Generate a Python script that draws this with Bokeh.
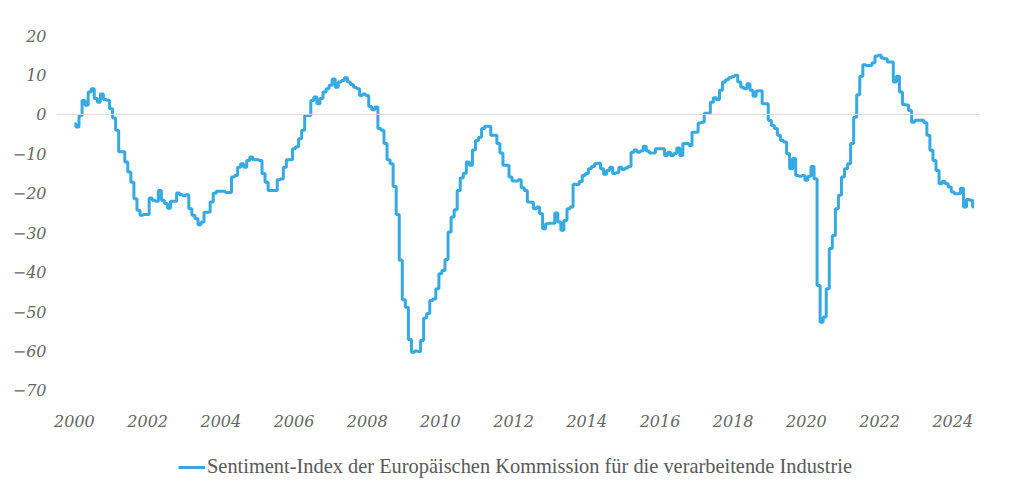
from bokeh.plotting import figure
from bokeh.layouts import column
from bokeh.models import ColumnDataSource, Range1d, FixedTicker, Span, Legend, LegendItem
from bokeh.embed import file_html
from bokeh.resources import INLINE

start_year = 2000
tick_years = list(range(2000, 2025, 2))
y_ticks = [20, 10, 0, -10, -20, -30, -40, -50, -60, -70]

v2000 = [-2.4, -3.2, -0.3, 3.5, 2.3, 5.7, 6.5, 4.0, 3.1, 5.2, 3.8, 3.6]
v2001 = [1.4, -0.9, -4.0, -9.5, -9.5, -12.1, -14.6, -17.2, -21.4, -24.3, -25.6, -25.4]
v2002 = [-25.4, -21.2, -21.8, -22.0, -19.3, -21.8, -22.6, -23.8, -22.0, -22.0, -19.9, -20.4]
v2003 = [-20.6, -20.4, -23.9, -25.6, -26.4, -28.0, -27.3, -24.8, -24.8, -22.2, -20.0, -19.5]
v2004 = [-19.5, -19.5, -19.8, -19.8, -15.9, -15.5, -13.4, -12.5, -13.4, -11.7, -10.8, -11.5]
v2005 = [-11.5, -11.7, -15.0, -17.2, -19.3, -19.3, -19.3, -16.6, -16.4, -13.4, -11.5, -11.5]
v2006 = [-8.7, -8.2, -6.2, -4.0, -0.3, -0.3, 3.5, 4.4, 2.7, 4.0, 5.7, 6.5]
v2007 = [7.4, 9.0, 6.9, 8.2, 8.6, 9.3, 8.2, 7.6, 6.9, 6.5, 4.8, 5.2]
v2008 = [4.8, 2.0, 1.2, 1.9, -3.6, -4.0, -7.4, -11.5, -12.5, -18.3, -25.4, -37.0]
v2009 = [-47.0, -48.9, -57.1, -60.3, -60.0, -60.1, -57.3, -51.6, -50.5, -47.2, -46.8, -44.2]
v2010 = [-40.4, -39.6, -36.8, -29.8, -26.0, -24.2, -19.3, -16.1, -14.9, -12.1, -12.9, -9.0]
v2011 = [-6.6, -5.8, -3.6, -3.0, -3.0, -5.3, -5.3, -7.4, -9.8, -12.9, -12.9, -15.9]
v2012 = [-16.9, -16.9, -16.6, -18.6, -19.3, -22.2, -22.3, -23.9, -23.5, -25.2, -29.0, -27.7]
v2013 = [-27.6, -27.6, -25.0, -27.3, -29.4, -26.9, -23.9, -23.5, -17.7, -17.8, -17.0, -15.5]
v2014 = [-15.0, -13.8, -13.2, -12.5, -12.4, -13.8, -15.2, -14.2, -13.4, -15.0, -14.8, -13.4]
v2015 = [-14.0, -13.6, -13.2, -9.6, -9.0, -9.6, -9.3, -8.1, -9.3, -9.8, -9.8, -8.7]
v2016 = [-8.7, -8.7, -10.4, -9.6, -10.4, -9.9, -8.5, -10.4, -7.4, -7.4, -7.9, -4.5]
v2017 = [-4.5, -2.2, -2.0, 0.3, 0.3, 3.1, 4.2, 3.7, 6.1, 8.2, 8.8, 9.3]
v2018 = [9.6, 9.9, 8.2, 6.9, 6.5, 7.8, 6.1, 4.6, 5.9, 6.0, 2.7, 2.7]
v2019 = [-1.5, -2.8, -3.6, -5.3, -6.6, -7.0, -10.0, -13.8, -11.2, -15.5, -15.7, -15.5]
v2020 = [-16.7, -15.7, -13.2, -16.3, -43.4, -52.7, -51.4, -44.2, -34.0, -30.7, -23.9, -20.5]
v2021 = [-15.9, -13.8, -12.5, -7.4, -0.7, 5.0, 9.7, 12.6, 12.4, 12.4, 13.1, 14.8]
v2022 = [15.0, 14.3, 14.1, 13.3, 13.3, 8.2, 9.7, 5.7, 2.5, 2.4, 1.0, -2.0]
v2023 = [-1.5, -1.5, -1.5, -2.1, -5.3, -9.1, -11.7, -14.2, -17.6, -17.0, -17.6, -18.4]
v2024 = [-19.7, -20.1, -20.1, -18.7, -23.5, -21.6, -21.8, -23.5]

series_name = "Sentiment-Index der Europäischen Kommission für die verarbeitende Industrie"

values = (v2000 + v2001 + v2002 + v2003 + v2004 + v2005 + v2006 + v2007 + v2008 +
          v2009 + v2010 + v2011 + v2012 + v2013 + v2014 + v2015 + v2016 + v2017 +
          v2018 + v2019 + v2020 + v2021 + v2022 + v2023 + v2024)
dates = [start_year + i / 12 for i in range(len(values))]

src = ColumnDataSource(dict(x=dates, y=values))

LINE_COLOR = "#36a9e1"
W = 1024
p = figure(width=W, height=440, output_backend="svg", toolbar_location=None,
           x_range=Range1d(1999.51, 2024.73), y_range=Range1d(-72.54, 21.27),
           min_border_left=56, min_border_right=45, min_border_top=30, min_border_bottom=40)
p.outline_line_color = None
p.xgrid.visible = False
p.ygrid.visible = False

p.add_layout(Span(location=0, dimension="width", line_color="#d9d9d9", line_width=1))

r = p.step(x="x", y="y", source=src, mode="center", line_color=LINE_COLOR, line_width=3)

font = "DejaVu Serif"
for ax in (p.xaxis[0], p.yaxis[0]):
    ax.axis_line_color = None
    ax.major_tick_line_color = None
    ax.minor_tick_line_color = None
    ax.major_label_text_font = font
    ax.major_label_text_font_style = "italic"
    ax.major_label_text_font_size = "16px"
    ax.major_label_text_color = "#666666"

p.xaxis[0].ticker = FixedTicker(ticks=tick_years)
p.xaxis[0].major_label_standoff = 8
p.yaxis[0].ticker = FixedTicker(ticks=y_ticks)
p.yaxis[0].major_label_standoff = 4

# legend strip below the chart (same series, ranges keep it out of view)
lg = figure(width=W, height=53, output_backend="svg", toolbar_location=None,
            x_range=Range1d(0, 1), y_range=Range1d(0, 1),
            x_axis_type=None, y_axis_type=None,
            min_border_left=56, min_border_right=45, min_border_top=0, min_border_bottom=0)
lg.outline_line_color = None
lg.xgrid.visible = False
lg.ygrid.visible = False
proxy = lg.step(x="x", y="y", source=src, mode="center", line_color=LINE_COLOR, line_width=3)

legend = Legend(items=[LegendItem(label=series_name, renderers=[proxy])],
                location=(122, 15), orientation="horizontal",
                glyph_width=27, glyph_height=20, label_height=20, label_standoff=2,
                padding=0, margin=0, spacing=0,
                border_line_color=None, background_fill_alpha=0,
                label_text_font="Liberation Serif", label_text_font_size="20.4px",
                label_text_color="#595959")
lg.add_layout(legend, "center")

layout = column(p, lg, spacing=0)
open("out.html", "w").write(file_html(layout, INLINE))
